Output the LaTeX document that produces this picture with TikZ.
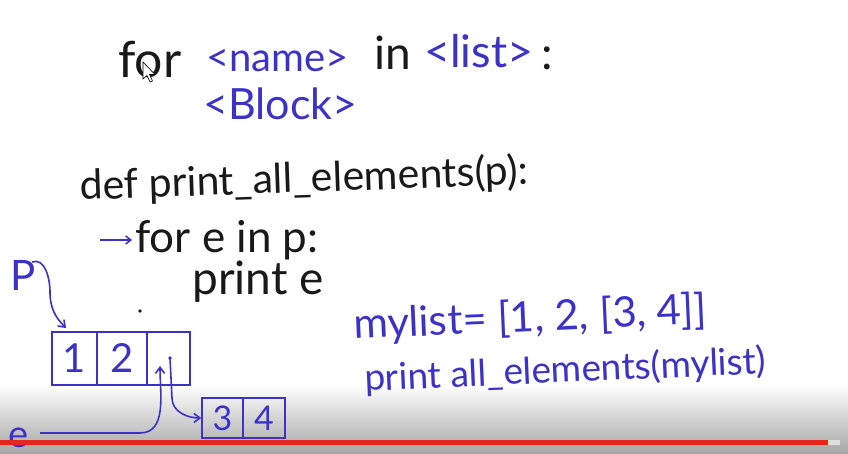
\documentclass[tikz,border=0pt]{standalone}
\usepackage{fontspec}
\setmainfont{Lato}
\usetikzlibrary{arrows.meta}
\definecolor{ink}{RGB}{60,50,200}
\definecolor{pen}{RGB}{25,25,25}
\definecolor{ytred}{RGB}{228,38,30}
\definecolor{shadegray}{RGB}{165,165,165}
\begin{document}
\begin{tikzpicture}[x=1pt,y=-1pt,
  txt/.style={anchor=base west,inner sep=0pt,font=\fontsize{#1}{#1}\selectfont},
  blk/.style={txt=#1,text=pen},
  blu/.style={txt=#1,text=ink},
  cell/.style={draw=ink,line width=1.6pt,minimum height=#1,inner sep=0pt,text=ink},
  conn/.style={draw=ink,line width=1.6pt,-{Straight Barb[length=6pt,width=9pt]}}]
\useasboundingbox (0,0) rectangle (848,454);
\fill[white] (0,0) rectangle (848,454);
\shade[top color=white,bottom color=shadegray] (0,385) rectangle (848,454);
% line 1
\node[blk=50] (for1) at (118,78) {for};
\node[blu=40] (name) at (206,72) {<name>};
\node[blk=46] (in1) at (374,70) {in};
\node[blu=45] (list) at (424,68) {<list>};
\node[blk=46] (col1) at (541,70) {:};
% line 2
\node[blu=43] (block) at (203,120) {<Block>};
% line 3
\node[blk=41,rotate=2] (def) at (80,200) {def print\_all\_elements(p):};
% line 4
\coordinate (arS) at (100,240);
\coordinate (arE) at (132,240);
\draw[ink,line width=1.6pt,-{Straight Barb[length=5pt,width=8pt]}] (arS) -- (arE);
\node[blk=44] (for2) at (135,252) {for e in p:};
% line 5
\node[blk=46] (prt) at (192,294) {print e};
% right side
\node[blu=42,rotate=2.5] (mylist) at (354,339) {mylist= [1, 2, [3, 4]]};
\node[blu=37,rotate=2.5] (call) at (365,391) {print all\_elements(mylist)};
% diagram
\node[blu=42] (P) at (10,290) {P};
\node[blu=38] (E) at (8,447) {e};
\node[cell=53pt,minimum width=45pt,font=\fontsize{40}{40}\selectfont] (c1) at (74.5,358.5) {1};
\node[cell=53pt,minimum width=50pt,font=\fontsize{40}{40}\selectfont] (c2) at (122,358.5) {2};
\node[cell=53pt,minimum width=43pt] (c3) at (168.5,358.5) {};
\node[cell=40pt,minimum width=41pt,font=\fontsize{34}{34}\selectfont] (d1) at (222.5,418) {3};
\node[cell=40pt,minimum width=42pt,font=\fontsize{34}{34}\selectfont] (d2) at (264,418) {4};
\fill[ink] (170,358) circle (1.8pt) coordinate (ptr);
\fill[pen] (140,311) circle (1.8pt) coordinate (stray);
\coordinate (pS) at (32,262);
\coordinate (pT) at (66,328);
\draw[conn] (pS) to[out=20,in=90] (50,292) to[out=-90,in=135] (pT);
\draw[conn] (ptr) -- (172,398) to[out=-90,in=180] (d1.west);
\coordinate (eS) at (40,433);
\coordinate (eT) at (160,366);
\draw[conn] (eS) to[out=0,in=180] (140,433) to[out=0,in=-90] (eT);
% mouse cursor
\draw[black,fill=white,line width=0.6pt] (143,62) -- (143,79) -- (147,75.5) -- (150,82) -- (152.5,81) -- (149.5,74.5) -- (155,74.5) -- cycle;
% progress bar
\fill[ytred] (0,440) rectangle (828,445);
\fill[gray!25] (828,440) rectangle (840,445);
\end{tikzpicture}
\end{document}
